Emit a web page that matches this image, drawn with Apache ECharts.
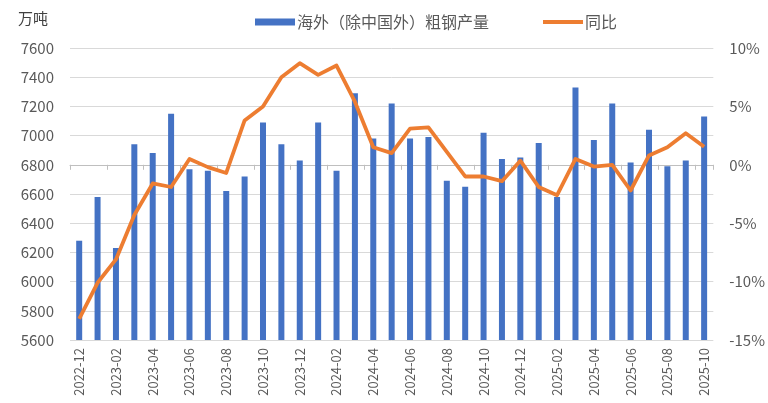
<!DOCTYPE html>
<html>
<head>
<meta charset="utf-8">
<script src="https://cdn.jsdelivr.net/npm/echarts@6/dist/echarts.min.js"></script>
<style>
  html, body { margin: 0; padding: 0; background: #fff; }
  #chart { width: 768px; height: 403px; }
</style>
</head>
<body>
<div id="chart"></div>
<script>
  // 月份
  var months = [
    '2022-12',
    '2023-01', '2023-02', '2023-03', '2023-04', '2023-05', '2023-06',
    '2023-07', '2023-08', '2023-09', '2023-10', '2023-11', '2023-12',
    '2024-01', '2024-02', '2024-03', '2024-04', '2024-05', '2024-06',
    '2024-07', '2024-08', '2024-09', '2024-10', '2024-11', '2024-12',
    '2025-01', '2025-02', '2025-03', '2025-04', '2025-05', '2025-06',
    '2025-07', '2025-08', '2025-09', '2025-10'
  ];
  // 海外（除中国外）粗钢产量，万吨
  var output = [
    6280,
    6580, 6230, 6940, 6880, 7150, 6770,
    6760, 6620, 6720, 7090, 6940, 6830,
    7090, 6760, 7290, 6980, 7220, 6980,
    6990, 6690, 6650, 7020, 6840, 6850,
    6950, 6580, 7330, 6970, 7220, 6815,
    7040, 6790, 6830, 7130
  ];
  // 同比，%
  var yoy = [
    -13.2,
    -10.1, -8.1, -4.3, -1.6, -1.9, 0.5,
    -0.2, -0.7, 3.8, 5.0, 7.5, 8.7,
    7.7, 8.5, 5.4, 1.5, 1.0, 3.1,
    3.2, 1.1, -1.0, -1.0, -1.4, 0.35,
    -1.9, -2.6, 0.5, -0.15, 0.0, -2.2,
    0.8, 1.5, 2.7, 1.55
  ];

  var font = '"Noto Sans CJK SC", "Noto Sans", sans-serif';
  var chart = echarts.init(document.getElementById('chart'));
  chart.setOption({
    backgroundColor: '#ffffff',
    animation: false,
    textStyle: { fontFamily: font },
    title: {
      text: '万吨',
      left: 13,
      top: 6,
      textStyle: { fontSize: 15, fontWeight: 'normal', color: '#404040', fontFamily: font }
    },
    // 图例
    legend: {
      top: 9,
      left: 250,
      itemWidth: 40,
      itemHeight: 7,
      itemGap: 52,
      textStyle: { fontSize: 16, color: '#595959', padding: [0, 0, 0, -3] },
      data: [
        { name: '海外（除中国外）粗钢产量', icon: 'rect' },
        {
          name: '同比',
          itemStyle: { color: 'transparent', borderWidth: 0 },
          lineStyle: { color: '#ED7D31', width: 4 }
        }
      ]
    },
    grid: {
      top: 48,
      left: 70,
      right: 54,
      bottom: 63,
      containLabel: false
    },
    // X轴
    xAxis: [{
      type: 'category',
      data: months,
      boundaryGap: true,
      axisLine: { lineStyle: { color: '#BFBFBF', width: 1 } },
      axisTick: { show: true, interval: 1, length: 5, lineStyle: { color: '#BFBFBF' } },
      axisLabel: {
        interval: 1,
        rotate: 90,
        margin: 8,
        fontSize: 13,
        color: '#595959'
      }
    }],
    // Y轴
    yAxis: [{
      type: 'value',
      min: 5600,
      max: 7600,
      interval: 200,
      axisLine: { show: false },
      axisTick: { show: false },
      axisLabel: { margin: 16, fontSize: 15, color: '#595959', formatter: function (v) { return String(v); } },
      splitLine: { lineStyle: { color: '#D9D9D9', width: 1 } }
    }, {
      type: 'value',
      min: -15,
      max: 10,
      interval: 5,
      axisLine: { show: false },
      axisTick: { show: false },
      axisLabel: { margin: 16, fontSize: 15, color: '#595959', formatter: '{value}%' },
      splitLine: { show: false }
    }],
    series: [{
      name: '海外（除中国外）粗钢产量',
      type: 'bar',
      barWidth: 6,
      itemStyle: { color: '#4472C4' },
      data: output
    }, {
      name: '同比',
      type: 'line',
      yAxisIndex: 1,
      symbol: 'none',
      lineStyle: { color: '#ED7D31', width: 3.8, join: 'round' },
      itemStyle: { color: '#ED7D31' },
      data: yoy
    }]
  });
</script>
</body>
</html>
